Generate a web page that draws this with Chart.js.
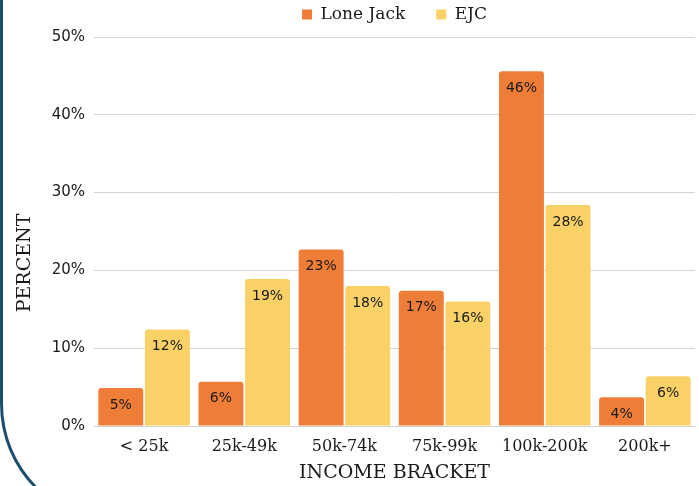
<!DOCTYPE html>
<html>
<head>
<meta charset="utf-8">
<script src="https://cdn.jsdelivr.net/npm/chart.js@4.4.0/dist/chart.umd.min.js"></script>
<style>
  html, body { margin:0; padding:0; background:#fff; }
  body { width:699px; height:486px; position:relative; overflow:hidden; }
  #wrap { position:absolute; left:0; top:0; width:699px; height:486px; }
  .frame {
    position:absolute; left:0; top:-40px; width:900px; height:564px;
    border-left:3px solid #1d4f6c; border-bottom:3px solid #1d4f6c;
    border-bottom-left-radius:120px; box-sizing:border-box; pointer-events:none;
  }
</style>
</head>
<body>
<div id="wrap"><canvas id="c" width="699" height="486"></canvas></div>
<div class="frame"></div>
<script>
  const brackets  = ["< 25k", "25k-49k", "50k-74k", "75k-99k", "100k-200k", "200k+"];
  const loneJack  = [4.9, 5.7, 22.7, 17.4, 45.6, 3.7];
  const ejc       = [12.4, 18.9, 18.0, 16.0, 28.4, 6.4];
  const yTicks    = [0, 10, 20, 30, 40, 50];

  const ORANGE = "#EE7D37";
  const YELLOW = "#F9D166";
  const SERIF  = "'DejaVu Serif', serif";
  const SANS   = "'DejaVu Sans', sans-serif";

  // value labels inside the top of each bar
  const barLabels = {
    id: "barLabels",
    afterDatasetsDraw(chart){
      const ctx = chart.ctx;
      ctx.save();
      ctx.font = "14px " + SANS;
      ctx.fillStyle = "#1a1a1a";
      ctx.textAlign = "center";
      ctx.textBaseline = "middle";
      chart.data.datasets.forEach((ds, i) => {
        chart.getDatasetMeta(i).data.forEach((bar, j) => {
          ctx.fillText(Math.round(ds.data[j]) + "%", bar.x, bar.y + 17);
        });
      });
      ctx.restore();
    }
  };

  // y title sits a little below the middle in the original
  const yTitle = {
    id: "yTitle",
    afterDraw(chart){
      const ctx = chart.ctx;
      ctx.save();
      ctx.translate(25, 263);
      ctx.rotate(-Math.PI / 2);
      ctx.font = "19px " + SERIF;
      ctx.fillStyle = "#1a1a1a";
      ctx.textAlign = "center";
      ctx.textBaseline = "middle";
      ctx.fillText("PERCENT", 0, 0);
      ctx.restore();
    }
  };

  // fixed legend height so the plot starts right under it
  const legendFit = {
    id: "legendFit",
    beforeLayout(chart){
      const lg = chart.legend;
      if (lg && !lg._fixed){
        const fit = lg.fit;
        lg.fit = function(){ fit.call(this); this.height = 62; };
        lg._fixed = true;
      }
    }
  };

  new Chart(document.getElementById("c").getContext("2d"), {
    type: "bar",
    data: {
      labels: brackets,
      datasets: [
        { label:"Lone Jack", data:loneJack, backgroundColor:ORANGE },
        { label:"EJC",       data:ejc,      backgroundColor:YELLOW }
      ]
    },
    plugins: [barLabels, yTitle, legendFit],
    options: {
      responsive:false,
      animation:false,
      layout:{ padding:{ left:0, right:4, top:-25, bottom:2 } },
      datasets:{ bar:{
        categoryPercentage:0.93, barPercentage:0.965,
        borderRadius:{ topLeft:3, topRight:3 }, borderSkipped:"bottom"
      }},
      plugins:{
        tooltip:{ enabled:false },
        legend:{
          position:"top",
          fullSize:false,
          labels:{
            boxWidth:10, boxHeight:10, padding:31, color:"#1a1a1a",
            font:{ family:SERIF, size:17 }
          }
        }
      },
      scales:{
        x:{
          grid:{ display:false },
          border:{ display:false },
          ticks:{ color:"#1a1a1a", font:{ family:SERIF, size:16 }, padding:3 },
          title:{ display:true, text:"INCOME BRACKET", color:"#1a1a1a",
                  font:{ family:SERIF, size:19 }, padding:{ top:2, bottom:0 } }
        },
        y:{
          min:0, max:50,
          afterBuildTicks: s => { s.ticks = yTicks.map(v => ({ value:v })); },
          afterFit: s => { s.width = 94; },
          grid:{ color:"#d4d4d4", drawTicks:false },
          border:{ display:false },
          ticks:{ color:"#1a1a1a", font:{ family:SANS, size:15 }, padding:9,
                  callback: v => v + "%" }
        }
      }
    }
  });
</script>
</body>
</html>
